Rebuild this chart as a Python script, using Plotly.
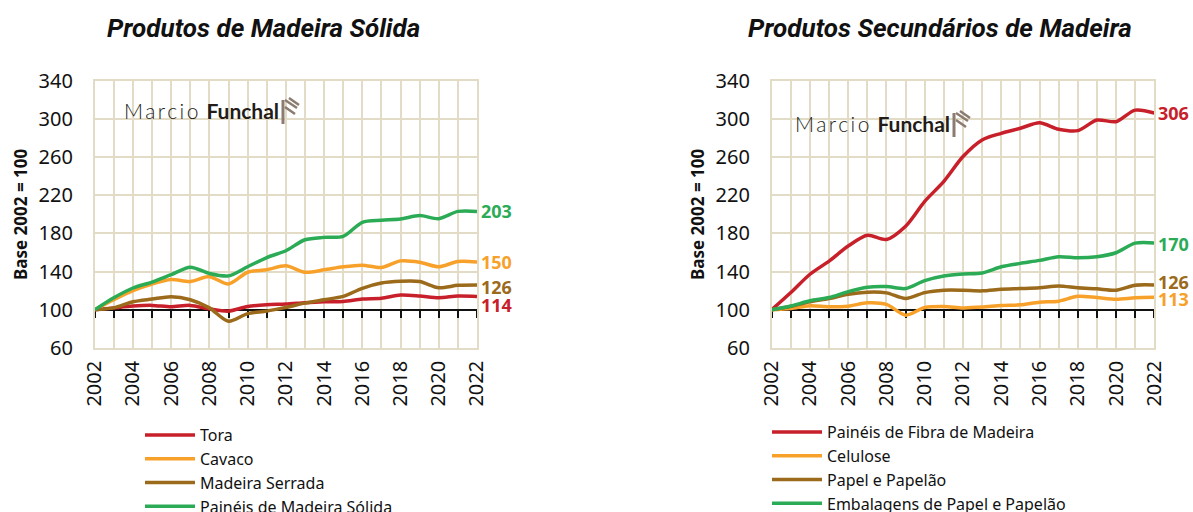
import plotly.graph_objects as go

# ---------------- data ----------------
years = list(range(2002, 2023))

# Produtos de Madeira Sólida (Base 2002 = 100)
tora = [100, 102, 103.9, 104.6, 103.2, 104.6, 101, 98.6, 103.5, 105.3, 106, 107.4, 108.4, 108.8, 111.2, 112, 115.4, 114.4, 112.6, 114.4, 114]
cavaco = [100, 110.5, 120, 127, 131.6, 129.5, 134.7, 127, 139.3, 141.8, 146, 139.3, 141.8, 145, 146.7, 144.2, 151.2, 149.8, 145, 150.5, 150]
madeira_serrada = [100, 102, 108.4, 111.2, 113.7, 110.5, 102, 88, 96, 98.6, 102.5, 107, 110.5, 114, 122.5, 128, 129.8, 129.5, 123, 125.6, 126]
paineis_solida = [100, 112.6, 122.8, 129, 136.8, 144.6, 138, 135.5, 145, 154.7, 161.8, 173.3, 175.8, 176.8, 191.6, 193.7, 195, 198.6, 195.4, 203, 203]

# Produtos Secundários de Madeira (Base 2002 = 100)
fibra = [100, 118, 137.2, 151, 166.7, 178, 173.6, 187.5, 213.5, 234.4, 260.4, 277.8, 284.7, 290, 295.8, 288.9, 287.5, 298.6, 296.9, 309, 306]
celulose = [100, 101.4, 104.2, 103.1, 103.8, 107.3, 105.6, 94.4, 102.4, 103.5, 102, 102.8, 104.5, 105.2, 108, 109, 114.2, 112.8, 111.1, 112.5, 113]
papel = [100, 103.5, 108.3, 111.8, 116.3, 118.4, 117.7, 111.8, 118, 120.5, 120.5, 119.8, 121.5, 122.2, 123, 125, 123, 121.9, 120.5, 125.7, 126]
embalagens = [100, 104, 109.4, 112.8, 119, 123.6, 124.3, 122.2, 130.6, 135.4, 137.5, 138.5, 145, 148.6, 151.7, 155.6, 154.5, 155.6, 159.7, 169.8, 170]

left_names = ["Tora", "Cavaco", "Madeira Serrada", "Painéis de Madeira Sólida"]
right_names = ["Painéis de Fibra de Madeira", "Celulose", "Papel e Papelão", "Embalagens de Papel e Papelão"]
titles = ["Produtos de Madeira Sólida", "Produtos Secundários de Madeira"]
y_title = "Base 2002 = 100"

# ---------------- style ----------------
RED, ORANGE, BROWN, GREEN = "#c8202a", "#f7a12b", "#9b6a1a", "#2bab55"
GRID = "#e2dcc7"
W, H = 1193, 512
FONT = "Noto Sans"


def px(x):
    return x / W


def py(y):
    return 1 - y / H


Y0, Y1 = 60, 340
ydom = [py(348), py(80.5)]
xdomL = [px(94.7), px(477)]
xdomR = [px(771.7), px(1154.3)]
pos100 = ydom[0] + (100 - Y0) / (Y1 - Y0) * (ydom[1] - ydom[0])

fig = go.Figure()

left_series = [tora, cavaco, madeira_serrada, paineis_solida]
right_series = [fibra, celulose, papel, embalagens]
colors_left = [RED, ORANGE, BROWN, GREEN]
colors_right = [RED, ORANGE, BROWN, GREEN]

for name, vals, c in zip(left_names, left_series, colors_left):
    fig.add_trace(go.Scatter(x=years, y=vals, name=name, mode="lines",
                             line=dict(color=c, width=3.5, shape="spline", smoothing=0.8),
                             xaxis="x", yaxis="y", legend="legend"))
for name, vals, c in zip(right_names, right_series, colors_right):
    fig.add_trace(go.Scatter(x=years, y=vals, name=name, mode="lines",
                             line=dict(color=c, width=3.5, shape="spline", smoothing=0.8),
                             xaxis="x2", yaxis="y2", legend="legend2"))

# helper traces so the black base-100 axes exist
fig.add_trace(go.Scatter(x=[years[0]], y=[100], mode="none", xaxis="x3", yaxis="y",
                         showlegend=False, hoverinfo="skip"))
fig.add_trace(go.Scatter(x=[years[0]], y=[100], mode="none", xaxis="x4", yaxis="y2",
                         showlegend=False, hoverinfo="skip"))

tickfont = dict(family=FONT, size=20, color="#111111")


def xaxis(dom, anchor):
    return dict(domain=dom, anchor=anchor, range=[years[0], years[-1]],
                tickmode="linear", tick0=years[0], dtick=2, tickangle=-90,
                tickfont=tickfont, ticks="", ticklabelstandoff=3,
                showgrid=True, gridcolor=GRID, gridwidth=1.6,
                minor=dict(dtick=1, tick0=years[0], showgrid=True, gridcolor=GRID, gridwidth=1.6),
                showline=True, linecolor=GRID, linewidth=1.6, mirror=True,
                zeroline=False, automargin=False, fixedrange=True)


def yaxis(anchor):
    return dict(domain=ydom, anchor=anchor, range=[Y0, Y1], tickmode="linear",
                tick0=Y0, dtick=40, tickfont=tickfont, ticks="", ticklabelstandoff=16,
                showgrid=True, gridcolor=GRID, gridwidth=1.6,
                showline=True, linecolor=GRID, linewidth=1.6, mirror=True,
                zeroline=False, automargin=False, fixedrange=True)


def baseaxis(over, dom):
    return dict(overlaying=over, anchor="free", position=pos100, domain=dom,
                range=[years[0], years[-1]], tickmode="linear", tick0=years[0], dtick=1,
                ticks="outside", ticklen=7, tickwidth=2, tickcolor="#111111",
                showticklabels=False, showgrid=False, zeroline=False,
                showline=True, linecolor="#111111", linewidth=2,
                layer="below traces", automargin=False, fixedrange=True)


legend_common = dict(font=dict(family=FONT, size=16, color="#111111"),
                     bgcolor="rgba(0,0,0,0)", orientation="v", xanchor="left",
                     yanchor="top", itemwidth=50, tracegroupgap=0, traceorder="normal")

fig.update_layout(
    width=W, height=H, autosize=False, template="none",
    paper_bgcolor="white", plot_bgcolor="white",
    margin=dict(l=0, r=0, t=0, b=0, autoexpand=False),
    showlegend=True,
    xaxis=xaxis(xdomL, "y"),
    yaxis=yaxis("x"),
    xaxis2=xaxis(xdomR, "y2"),
    yaxis2=yaxis("x2"),
    xaxis3=baseaxis("x", xdomL),
    xaxis4=baseaxis("x2", xdomR),
    legend=dict(x=px(140), y=py(418), **legend_common),
    legend2=dict(x=px(767), y=py(415), **legend_common),
)

ann = []
# titles
for t, cx in zip(titles, [263, 940]):
    ann.append(dict(text=t, x=px(cx), y=py(28), xref="paper", yref="paper",
                    xanchor="center", yanchor="middle", showarrow=False,
                    font=dict(family="Roboto", size=26, weight="bold", style="italic", color="#111111")))
# y-axis titles
for cx in [20, 697]:
    ann.append(dict(text=y_title, x=px(cx), y=py(215), xref="paper", yref="paper",
                    textangle=-90, xanchor="center", yanchor="middle", showarrow=False,
                    font=dict(family=FONT, size=17, weight="bold", color="#111111")))

# end labels
left_shift = [-9, 0, -2, 0]
right_shift = [0, -2, 3, -1]
for vals, c, s in zip(left_series, colors_left, left_shift):
    ann.append(dict(text=f"{round(vals[-1])}", x=years[-1], y=vals[-1], xref="x", yref="y",
                    xanchor="left", yanchor="middle", xshift=2, yshift=s, showarrow=False,
                    font=dict(family=FONT, size=18, weight="bold", color=c)))
for vals, c, s in zip(right_series, colors_right, right_shift):
    ann.append(dict(text=f"{round(vals[-1])}", x=years[-1], y=vals[-1], xref="x2", yref="y2",
                    xanchor="left", yanchor="middle", xshift=2, yshift=s, showarrow=False,
                    font=dict(family=FONT, size=18, weight="bold", color=c)))

# logos
logo_text = ("<span style='font-weight:300;letter-spacing:2.5px'>Marcio</span> "
             "<span style='font-weight:bold'>Funchal</span>")
for lx, ly in [(122, 110), (793, 123)]:
    ann.append(dict(text=logo_text, x=px(lx), y=py(ly), xref="paper", yref="paper",
                    xanchor="left", yanchor="middle", showarrow=False,
                    font=dict(family="Lato", size=21, color="#231c18")))
fig.update_layout(annotations=ann)

# logo icon (small decorative mark)
shapes = []
ICON = "#8c7b70"
for ix, iy in [(283, 98), (954, 111)]:
    shapes.append(dict(type="line", xref="paper", yref="paper",
                       x0=px(ix), y0=py(iy + 2), x1=px(ix), y1=py(iy + 26),
                       line=dict(color=ICON, width=3)))
    shapes.append(dict(type="line", xref="paper", yref="paper",
                       x0=px(ix + 2), y0=py(iy + 2), x1=px(ix + 14), y1=py(iy + 10),
                       line=dict(color=ICON, width=2.5)))
    shapes.append(dict(type="line", xref="paper", yref="paper",
                       x0=px(ix + 2), y0=py(iy + 9), x1=px(ix + 12), y1=py(iy + 16),
                       line=dict(color=ICON, width=2.5)))
    shapes.append(dict(type="line", xref="paper", yref="paper",
                       x0=px(ix + 6), y0=py(iy + 0), x1=px(ix + 16), y1=py(iy + 7),
                       line=dict(color=ICON, width=2.5)))
fig.update_layout(shapes=shapes)

fig.write_html(
    "out.html",
    config={"displayModeBar": False},
    post_script="document.body.style.margin='0';document.body.style.overflow='hidden';"
                "document.documentElement.style.overflow='hidden';",
)
